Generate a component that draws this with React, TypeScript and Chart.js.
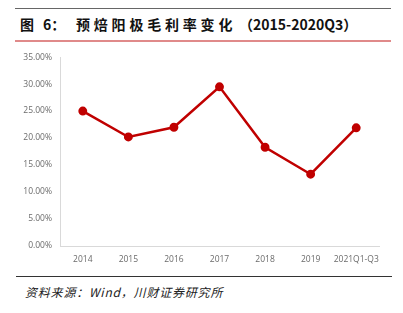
import React, { useEffect, useRef } from "react";
import { Chart, registerables } from "chart.js";

Chart.register(...registerables);

const categories = ["2014", "2015", "2016", "2017", "2018", "2019", "2021Q1-Q3"];
const marginValues = [25.0, 20.2, 22.0, 29.5, 18.3, 13.3, 21.9];
const yMax = 35;
const yStep = 5;

const titleParts = ["图", "6：", "预焙阳极毛利率变化", "（2015-2020Q3）"];
const sourceText = "资料来源：Wind，川财证券研究所";

export default function App() {
  const ref = useRef<HTMLCanvasElement | null>(null);

  useEffect(() => {
    if (!ref.current) return;
    const axisFont = { family: "'Open Sans', 'Liberation Sans', sans-serif", size: 8.5 };
    const chart = new Chart(ref.current, {
      type: "line",
      data: {
        labels: categories,
        datasets: [
          {
            data: marginValues,
            borderColor: "#c00000",
            backgroundColor: "#c00000",
            borderWidth: 2.5,
            pointRadius: 3.2,
            pointBackgroundColor: "#c00000",
            pointBorderColor: "#c00000",
            tension: 0,
          },
        ],
      },
      options: {
        responsive: false,
        animation: false,
        devicePixelRatio: 1,
        layout: { padding: { top: 1, right: 24, left: 0, bottom: 0 } },
        plugins: { legend: { display: false }, tooltip: { enabled: false } },
        scales: {
          x: {
            offset: true,
            grid: { display: false, drawTicks: false },
            border: { display: true, color: "#d9d9d9", width: 1 },
            ticks: { color: "#6b6b6b", font: axisFont, padding: 8, maxRotation: 0, autoSkip: false },
            afterFit: (s: any) => {
              s.height = 26;
            },
          },
          y: {
            min: 0,
            max: yMax,
            grid: { display: false, drawTicks: false },
            border: { display: true, color: "#d9d9d9", width: 1 },
            ticks: {
              stepSize: yStep,
              color: "#6b6b6b",
              font: axisFont,
              padding: 8,
              callback: (v: any) => Number(v).toFixed(2) + "%",
            },
            afterFit: (s: any) => {
              s.width = 60;
            },
          },
        },
      },
    });
    return () => chart.destroy();
  }, []);

  const cjkBold: React.CSSProperties = {
    position: "absolute",
    top: 15,
    fontFamily: "'Noto Sans CJK SC', sans-serif",
    fontWeight: 700,
    fontSize: 14,
    lineHeight: "18px",
    color: "#111",
    whiteSpace: "nowrap",
  };

  return (
    <div style={{ position: "absolute", left: 0, top: 0, width: 403, height: 313, background: "#fff", overflow: "hidden" }}>
      <div style={{ position: "absolute", left: 15, top: 8, width: 376, height: 1, background: "#666" }} />
      <span style={{ ...cjkBold, left: 20 }}>{titleParts[0]}</span>
      <span style={{ ...cjkBold, left: 43 }}>{titleParts[1]}</span>
      <span style={{ ...cjkBold, left: 76, letterSpacing: 3.8 }}>{titleParts[2]}</span>
      <span style={{ ...cjkBold, left: 239 }}>{titleParts[3]}</span>
      <div style={{ position: "absolute", left: 15, top: 40, width: 376, height: 2, background: "#e08a8a" }} />
      <canvas ref={ref} width={403} height={228} style={{ position: "absolute", left: 0, top: 44, width: 403, height: 228 }} />
      <div style={{ position: "absolute", left: 16, top: 276, width: 376, height: 1, background: "#333" }} />
      <div
        style={{
          position: "absolute",
          left: 25,
          top: 284,
          fontFamily: "'Noto Sans CJK SC', sans-serif",
          fontStyle: "italic",
          fontSize: 12,
          lineHeight: "16px",
          letterSpacing: 0.8,
          color: "#222",
          whiteSpace: "nowrap",
        }}
      >
        {sourceText}
      </div>
    </div>
  );
}
